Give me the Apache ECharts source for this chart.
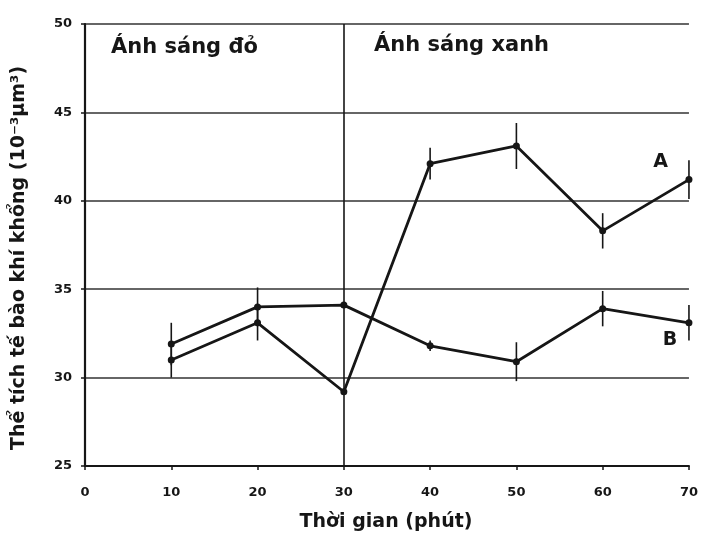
<!DOCTYPE html>
<html>
<head>
<meta charset="utf-8">
<script src="https://cdn.jsdelivr.net/npm/echarts@6/dist/echarts.min.js"></script>
<style>
  html, body { margin: 0; padding: 0; background: #ffffff; }
  #chart { width: 701px; height: 536px; }
</style>
</head>
<body>
<div id="chart"></div>
<script>
// Thời gian (phút)
const minutes = [10, 20, 30, 40, 50, 60, 70];
// Thể tích tế bào khí khổng, đường A và đường B
const seriesA = [31.0, 33.1, 29.2, 42.1, 43.1, 38.3, 41.2];
const seriesB = [31.9, 34.0, 34.1, 31.8, 30.9, 33.9, 33.1];
// Sai số (±)
const errA = [1.0, 1.0, 0, 0.9, 1.3, 1.0, 1.1];
const errB = [1.2, 1.1, 0, 0.3, 1.1, 1.0, 1.0];
// Trục
const xTicks = [0, 10, 20, 30, 40, 50, 60, 70];
const yTicks = [25, 30, 35, 40, 45, 50];
const phaseSplit = 30;
const phaseLabels = ['Ánh sáng đỏ', 'Ánh sáng xanh'];
const lineNames = ['A', 'B'];

const ink = '#161616';
const font = '"DejaVu Sans", "Liberation Sans", Arial, sans-serif';

function errData(vals, errs) {
  return minutes
    .map((m, i) => [m, vals[i] - errs[i], vals[i] + errs[i], errs[i]])
    .filter(d => d[3] > 0);
}

function renderErr(params, api) {
  const x = api.value(0);
  const p1 = api.coord([x, api.value(1)]);
  const p2 = api.coord([x, api.value(2)]);
  return {
    type: 'line',
    shape: { x1: p1[0], y1: p1[1], x2: p2[0], y2: p2[1] },
    style: { stroke: ink, lineWidth: 1.6 }
  };
}

const chart = echarts.init(document.getElementById('chart'), null, { renderer: 'canvas' });

chart.setOption({
  animation: false,
  backgroundColor: '#ffffff',
  grid: { left: 85, right: 10, top: 24, bottom: 70 },
  xAxis: {
    type: 'value',
    min: xTicks[0],
    max: xTicks[xTicks.length - 1],
    interval: 10,
    axisLine: { show: true, lineStyle: { color: ink, width: 2.2 } },
    axisTick: { show: true, length: 4, lineStyle: { color: ink, width: 1.5 } },
    axisLabel: { color: ink, fontFamily: font, fontWeight: 'bold', fontSize: 13, margin: 20 },
    splitLine: { show: false }
  },
  yAxis: {
    type: 'value',
    min: yTicks[0],
    max: yTicks[yTicks.length - 1],
    interval: 5,
    axisLine: { show: true, lineStyle: { color: ink, width: 2.2 } },
    axisTick: { show: true, length: 4, lineStyle: { color: ink, width: 1.5 } },
    axisLabel: { color: ink, fontFamily: font, fontWeight: 'bold', fontSize: 13, margin: 13 },
    splitLine: { show: true, lineStyle: { color: '#333333', width: 1.7 } }
  },
  series: [
    {
      name: lineNames[0],
      type: 'line',
      data: minutes.map((m, i) => [m, seriesA[i]]),
      symbol: 'circle',
      symbolSize: 7,
      itemStyle: { color: ink },
      lineStyle: { color: ink, width: 2.8 },
      z: 5,
      markLine: {
        silent: true,
        symbol: 'none',
        label: { show: false },
        lineStyle: { color: ink, width: 1.6, type: 'solid' },
        data: [{ xAxis: phaseSplit }]
      },
      markPoint: {
        symbol: 'circle',
        symbolSize: 0,
        label: { show: true, formatter: lineNames[0], color: ink, fontFamily: font, fontWeight: 'bold', fontSize: 19 },
        data: [{ coord: [66.7, 42.2] }]
      }
    },
    {
      name: lineNames[1],
      type: 'line',
      data: minutes.map((m, i) => [m, seriesB[i]]),
      symbol: 'circle',
      symbolSize: 7,
      itemStyle: { color: ink },
      lineStyle: { color: ink, width: 2.8 },
      z: 5,
      markPoint: {
        symbol: 'circle',
        symbolSize: 0,
        label: { show: true, formatter: lineNames[1], color: ink, fontFamily: font, fontWeight: 'bold', fontSize: 19 },
        data: [{ coord: [67.8, 32.1] }]
      }
    },
    {
      type: 'custom',
      renderItem: renderErr,
      data: errData(seriesA, errA),
      z: 4
    },
    {
      type: 'custom',
      renderItem: renderErr,
      data: errData(seriesB, errB),
      z: 4
    }
  ],
  graphic: [
    {
      type: 'text', left: 111, top: 37,
      style: { text: phaseLabels[0], fill: ink, font: 'bold 21px ' + font }
    },
    {
      type: 'text', left: 374, top: 35,
      style: { text: phaseLabels[1], fill: ink, font: 'bold 21px ' + font }
    },
    {
      type: 'text',
      x: 19, y: 258,
      rotation: Math.PI / 2,
      style: {
        text: 'Thể tích tế bào khí khổng (10⁻³µm³)',
        fill: ink,
        font: 'bold 19px ' + font,
        align: 'center',
        verticalAlign: 'middle'
      }
    },
    {
      type: 'text',
      x: 386, y: 522,
      style: {
        text: 'Thời gian (phút)',
        fill: ink,
        font: 'bold 19px ' + font,
        align: 'center',
        verticalAlign: 'middle'
      }
    }
  ]
});
</script>
</body>
</html>
